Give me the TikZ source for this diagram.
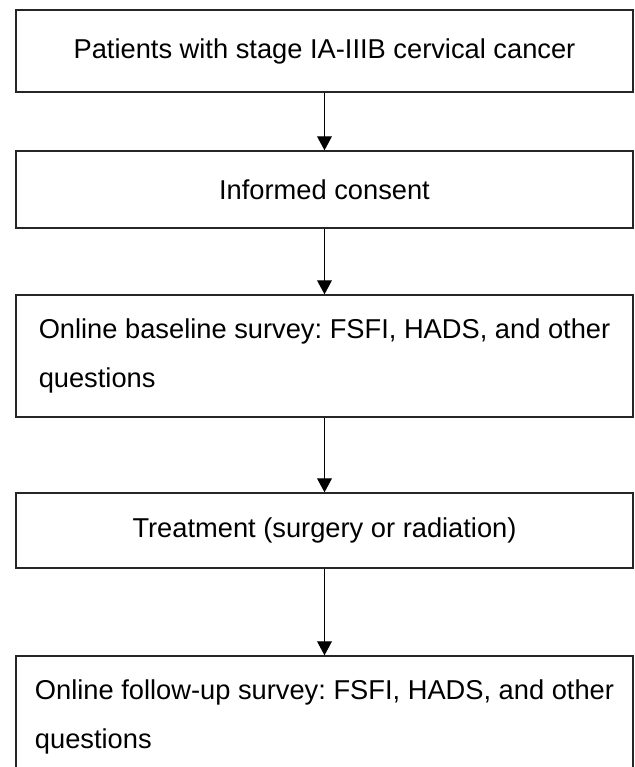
\documentclass[tikz,border=0pt]{standalone}
\usepackage{fontspec}
\setmainfont{Liberation Sans}
\usetikzlibrary{arrows.meta,positioning,calc}
\frenchspacing

\tikzset{
  stage/.style={draw=black!85, line width=1pt, minimum width=15.425cm, inner sep=0pt, align=center, font=\fontsize{19.4}{34.9}\selectfont},
  stagetext/.style={stage, align=left},
  flow/.style={line width=0.7pt, -{Triangle[length=0.35cm,width=0.37cm]}}
}

\begin{document}
\begin{tikzpicture}[scale=1]
    \clip (0,0) rectangle (15.85,-19.175);

    \node [stage, minimum height=2.05cm] (patients) at (8.1125,-1.275) {Patients with stage IA-IIIB cervical cancer};
    \node [stage, minimum height=1.925cm] (consent) at (8.1125,-4.7375) {Informed consent};
    \node [stagetext, minimum height=3.05cm] (baseline) at (8.1125,-8.9) {Online baseline survey: FSFI, HADS, and other\\questions};
    \node [stage, minimum height=1.875cm] (treatment) at (8.1125,-13.2625) {Treatment (surgery or radiation)};
    \node [stagetext, minimum height=3.05cm] (followup) at (8.1125,-17.925) {Online follow-up survey: FSFI, HADS, and other\\questions};

    \draw [flow] (patients) -- (consent);
    \draw [flow] (consent) -- (baseline);
    \draw [flow] (baseline) -- (treatment);
    \draw [flow] (treatment) -- (followup);
  \end{tikzpicture}
\end{document}
